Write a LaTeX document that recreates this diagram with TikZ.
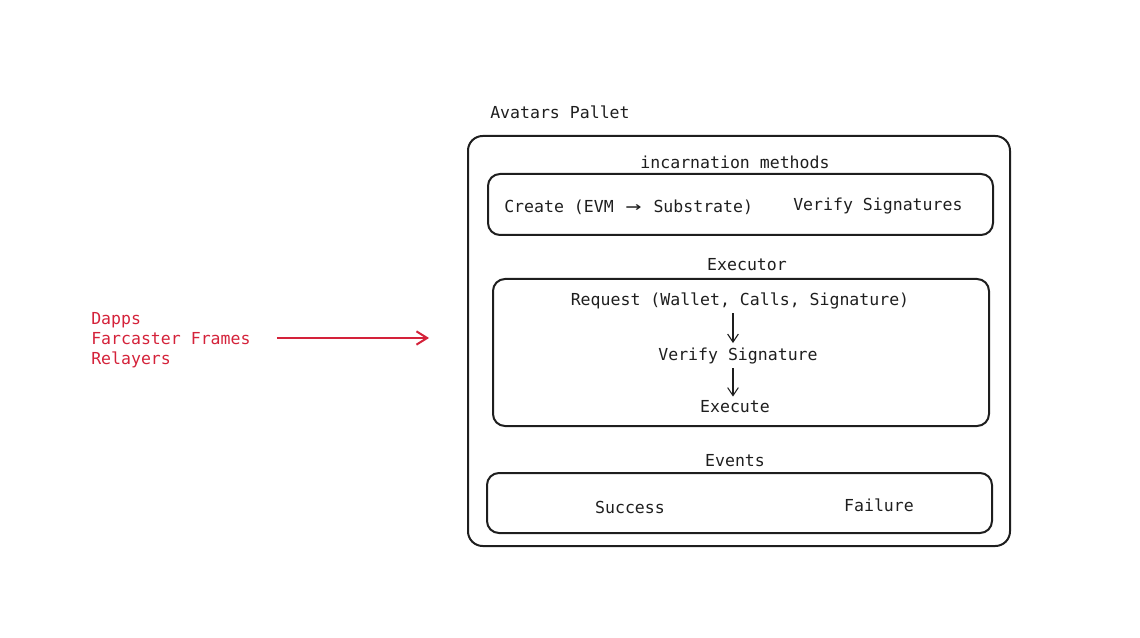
\documentclass[tikz,border=0pt]{standalone}
\usepackage{fontspec}
\usepackage{graphicx}
\setmonofont{DejaVu Sans Mono}
\usetikzlibrary{arrows.meta}
\usetikzlibrary{positioning}

\definecolor{callred}{HTML}{D4223A}
\definecolor{inkblack}{HTML}{1E1E1E}

\begin{document}
\begin{tikzpicture}[
    x=0.75pt, y=-0.75pt,
    every node/.style={font=\ttfamily\fontsize{12.4}{15}\selectfont, inner sep=0pt, text=inkblack},
    panel/.style={draw=inkblack, line width=1.5pt, rounded corners=11pt},
    subpanel/.style={draw=inkblack, line width=1.5pt, rounded corners=9pt},
    flow/.style={draw=inkblack, line width=0.8pt, -{Straight Barb[length=6pt, width=8pt]}},
    callflow/.style={draw=callred, line width=1.5pt, -{Straight Barb[length=8pt, width=10pt]}}]

\useasboundingbox (0,0) rectangle (1140,638);

% Pallet
\node[panel, minimum width=406.5pt, minimum height=307.5pt] (pallet) at (739,341) {};
\node[anchor=west] (palletname) at (490,112) {Avatars Pallet};

% incarnation methods
\node[subpanel, minimum width=378.75pt, minimum height=45.75pt] (methods) at (740.5,204.5) {};
\node (methodsname) at (735,162) {incarnation methods};
\node[anchor=west] (create) at (504,207) {Create (EVM \makebox[1.2em]{\scalebox{1.6}[1.1]{→}} Substrate)};
\node[anchor=west] (verifysigs) at (793,206) {Verify Signatures};

% Executor
\node[subpanel, minimum width=372pt, minimum height=110.25pt] (executor) at (741,352.5) {};
\node (executorname) at (747,265) {Executor};
\node (request) at (740,301) {Request (Wallet, Calls, Signature)};
\node (verify) at (738,356) {Verify Signature};
\node (execute) at (735,407) {Execute};
\draw[flow] ([xshift=-5.25pt, yshift=-3pt]request.south) -- ([xshift=-3.75pt, yshift=3.5pt]verify.north);
\draw[flow] ([xshift=-3.75pt, yshift=-3pt]verify.south) -- ([xshift=-1.5pt, yshift=3pt]execute.north);

% Events
\node[subpanel, minimum width=378.75pt, minimum height=45pt] (events) at (739.5,503) {};
\node (eventsname) at (735,461) {Events};
\node (success) at (630,507) {Success};
\node (failure) at (879,505) {Failure};

% Callers
\node[align=left, anchor=west, text=callred] (callers) at (91,340) {Dapps\\Farcaster Frames\\Relayers};
\draw[callflow, shorten <=19.5pt, shorten >=28.5pt] ([yshift=1.5pt]callers.east) -- ([yshift=1.5pt]callers.east -| pallet.west);
\end{tikzpicture}
\end{document}
